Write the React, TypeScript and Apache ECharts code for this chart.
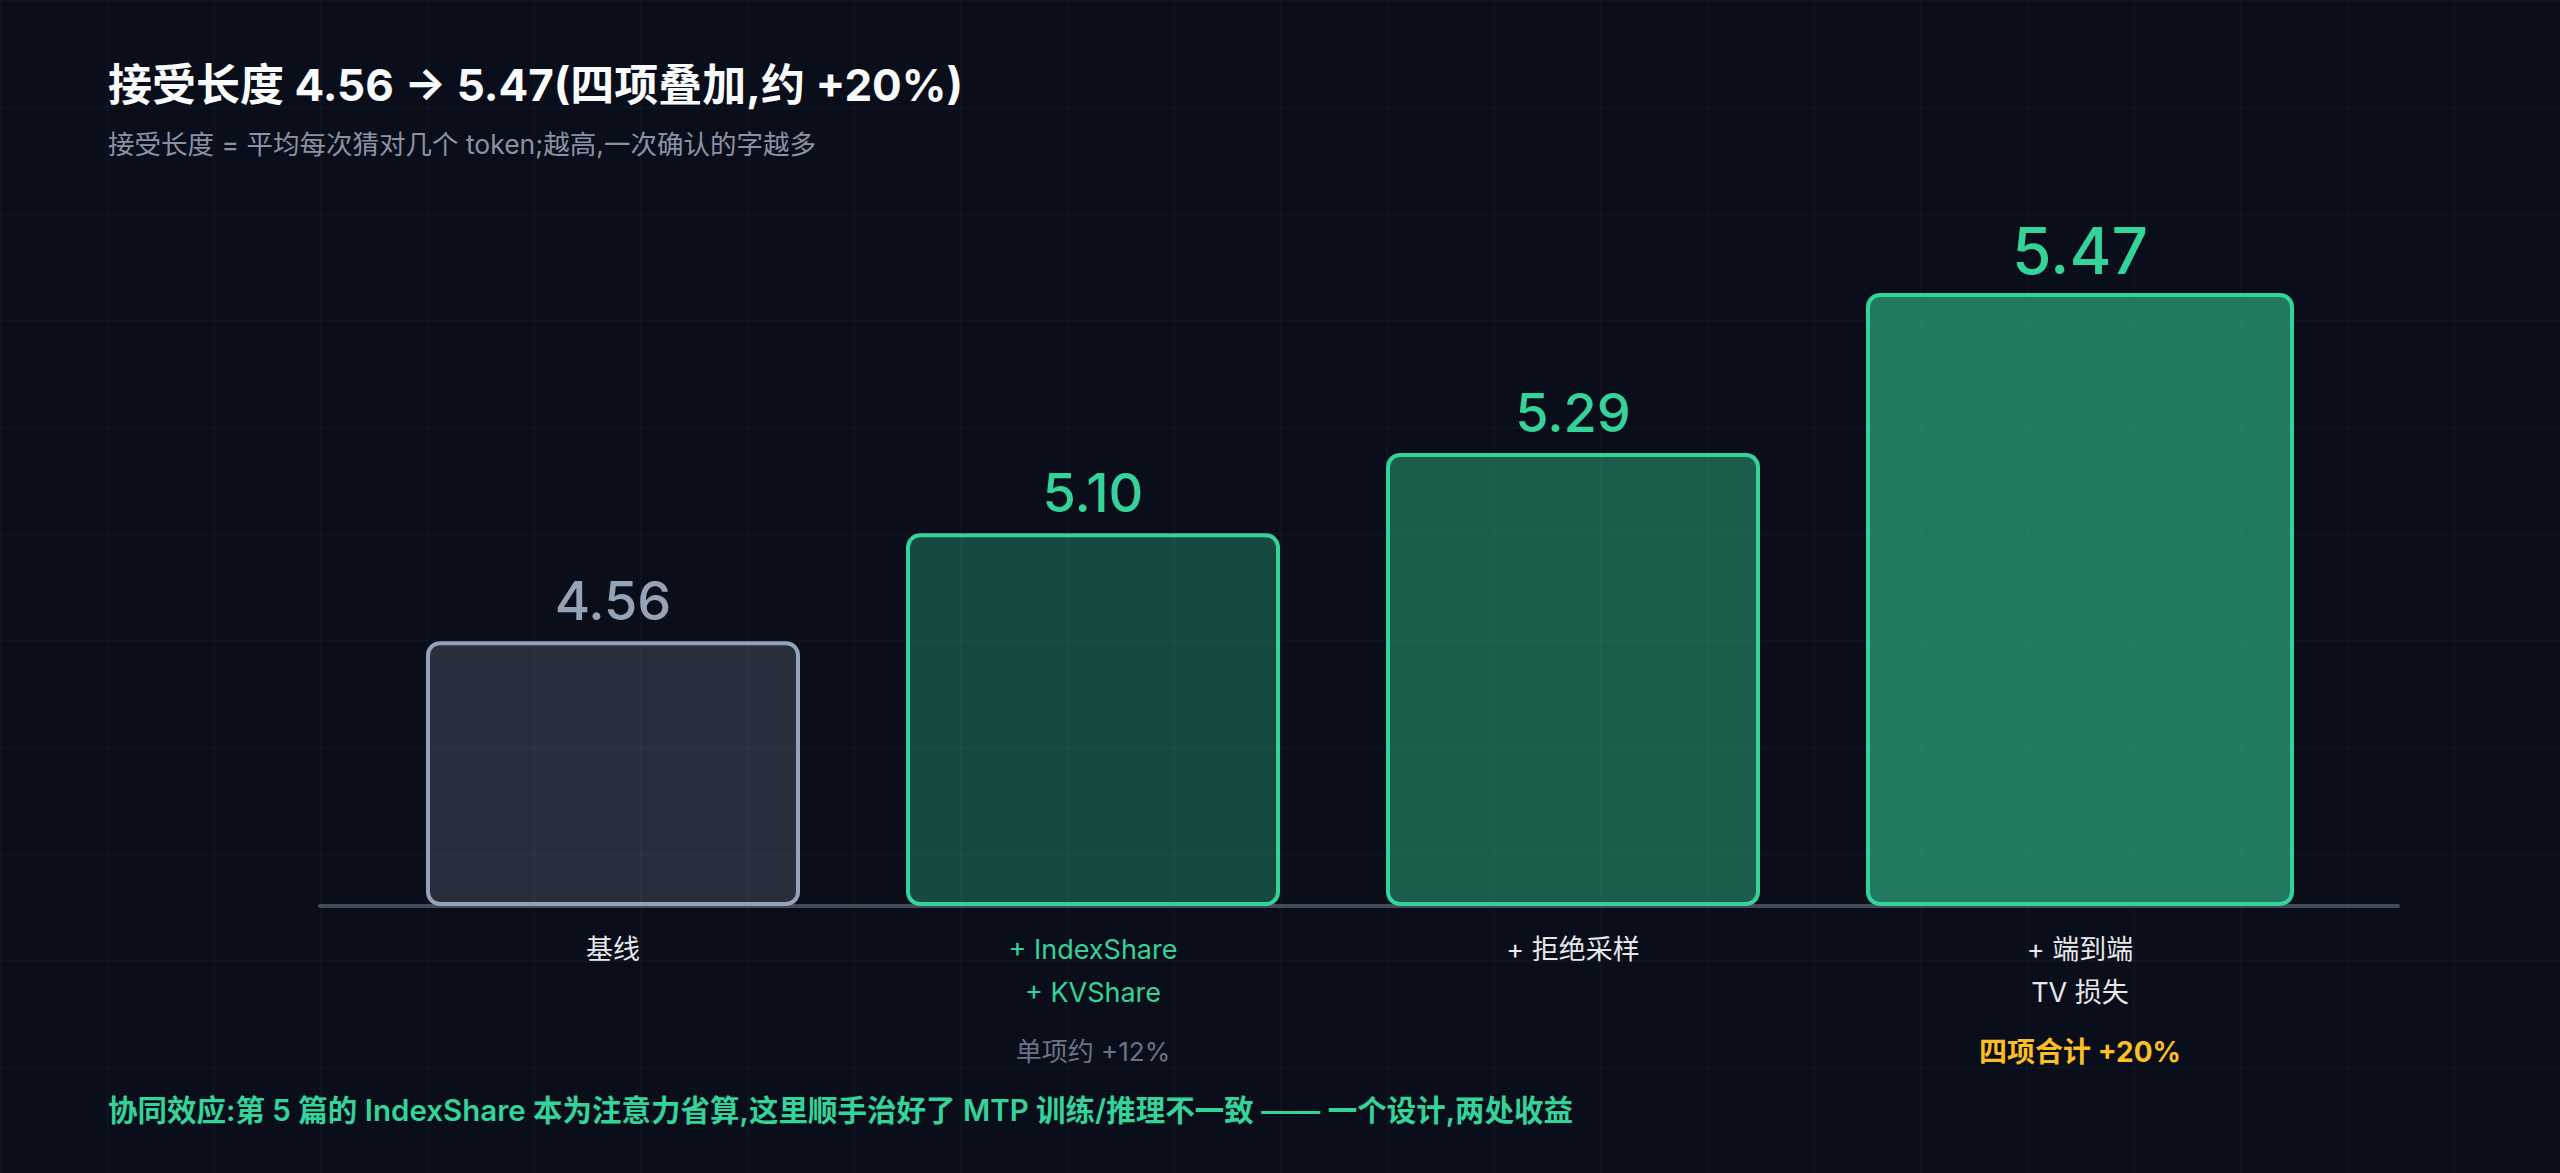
import { useEffect, useRef } from "react";
import * as echarts from "echarts";

const titleText = "接受长度 4.56 → 5.47(四项叠加,约 +20%)";
const subtitleText = "接受长度 = 平均每次猜对几个 token;越高,一次确认的字越多";
const footerText =
  "协同效应:第 5 篇的 IndexShare 本为注意力省算,这里顺手治好了 MTP 训练/推理不一致 —— 一个设计,两处收益";

const categories = ["基线", "+ IndexShare\n+ KVShare", "+ 拒绝采样", "+ 端到端\nTV 损失"];
const acceptLengths = [4.56, 5.1, 5.29, 5.47];
// bar heights as drawn, in % of the tallest bar (the picture is not to scale)
const barHeights = [43.2, 60.8, 73.9, 100];
const notes = ["", "单项约 +12%", "", "四项合计 +20%"];

export default function App() {
  const chartRef = useRef<HTMLDivElement>(null);

  useEffect(() => {
    if (!chartRef.current) return;
    const chart = echarts.init(chartRef.current, undefined, { renderer: "svg" });

    const font = "Inter, 'Noto Sans CJK SC', sans-serif";
    const green = "#34d399";
    const slate = "#94a3b8";
    const fills = [
      "rgba(148,163,184,0.22)",
      "rgba(52,211,153,0.30)",
      "rgba(52,211,153,0.40)",
      "rgba(52,211,153,0.55)",
    ];
    const last = acceptLengths.length - 1;

    const barItem = (i: number) => ({
      value: barHeights[i],
      itemStyle: {
        color: fills[i],
        borderColor: i === 0 ? slate : green,
        borderWidth: 4,
        borderRadius: 12,
      },
      label: {
        show: true,
        position: "top",
        distance: i === last ? 11 : 14,
        formatter: () => acceptLengths[i].toFixed(2),
        fontFamily: font,
        fontSize: i === last ? 64 : 54,
        fontWeight: 500,
        color: i === 0 ? slate : green,
      },
    });

    const option: echarts.EChartsOption = {
      animation: false,
      backgroundColor: "transparent",
      title: [
        {
          text: titleText,
          left: 108,
          top: 63,
          padding: 0,
          textStyle: { fontFamily: font, fontSize: 44, fontWeight: 700, color: "#f8fafc" },
        },
        {
          text: subtitleText,
          left: 108,
          top: 131,
          padding: 0,
          textStyle: { fontFamily: font, fontSize: 26.5, fontWeight: 400, color: "#8a93a6" },
        },
        {
          text: footerText,
          left: 108,
          top: 1095,
          padding: 0,
          textStyle: { fontFamily: font, fontSize: 29.5, fontWeight: 600, color: green },
        },
      ],
      grid: [
        { left: 373, right: 267, top: 293, bottom: 267 },
        // wider grid only for the long baseline
        { left: 320, right: 162, top: 293, bottom: 267 },
      ],
      xAxis: [
        {
          type: "category",
          gridIndex: 0,
          data: categories.map((c, i) => ({
            value: c,
            textStyle: {
              color: i === 1 ? green : "#e5e7eb",
              padding: i === last ? [0, 0, 0, 54] : 0,
            },
          })),
          axisLine: { show: false },
          axisTick: { show: false },
          axisLabel: {
            margin: 22,
            fontFamily: font,
            fontSize: 27,
            lineHeight: 43,
            interval: 0,
          },
        },
        {
          type: "category",
          gridIndex: 0,
          position: "bottom",
          data: notes.map((n, i) => ({
            value: n,
            textStyle: {
              color: i === last ? "#fbbf24" : "#6b7385",
              fontWeight: i === last ? 700 : 400,
              fontSize: i === last ? 28 : 26,
              padding: i === last ? [0, 0, 0, 54] : 0,
            },
          })),
          axisLine: { show: false },
          axisTick: { show: false },
          axisLabel: { margin: 132, fontFamily: font, interval: 0 },
        },
        {
          type: "value",
          gridIndex: 1,
          min: 0,
          max: 1,
          axisLine: { show: true, lineStyle: { color: "#434b5a", width: 4 } },
          axisTick: { show: false },
          axisLabel: { show: false },
          splitLine: { show: false },
        },
      ],
      yAxis: [
        { type: "value", gridIndex: 0, min: 0, max: 100, show: false },
        { type: "value", gridIndex: 1, min: 0, max: 100, show: false },
      ],
      series: [
        {
          name: "wide",
          type: "bar",
          xAxisIndex: 0,
          yAxisIndex: 0,
          barWidth: 428,
          barGap: "-100%",
          data: barHeights.map((_, i) => (i === last ? barItem(i) : "-")),
        },
        {
          name: "narrow",
          type: "bar",
          xAxisIndex: 0,
          yAxisIndex: 0,
          barWidth: 374,
          barGap: "-100%",
          data: barHeights.map((_, i) => (i !== last ? barItem(i) : "-")),
        },
      ],
    };

    chart.setOption(option);

    const handleResize = () => chart.resize();
    window.addEventListener("resize", handleResize);
    return () => {
      window.removeEventListener("resize", handleResize);
      chart.dispose();
    };
  }, []);

  return (
    <div
      style={{
        position: "fixed",
        left: 0,
        top: 0,
        width: "100vw",
        height: "100vh",
        backgroundColor: "#0a0e1a",
        backgroundImage:
          "linear-gradient(rgba(255,255,255,0.018) 2px, transparent 2px), linear-gradient(90deg, rgba(255,255,255,0.018) 2px, transparent 2px)",
        backgroundSize: "106.667px 106.667px",
      }}
    >
      <div ref={chartRef} style={{ width: "100%", height: "100%" }} />
    </div>
  );
}
